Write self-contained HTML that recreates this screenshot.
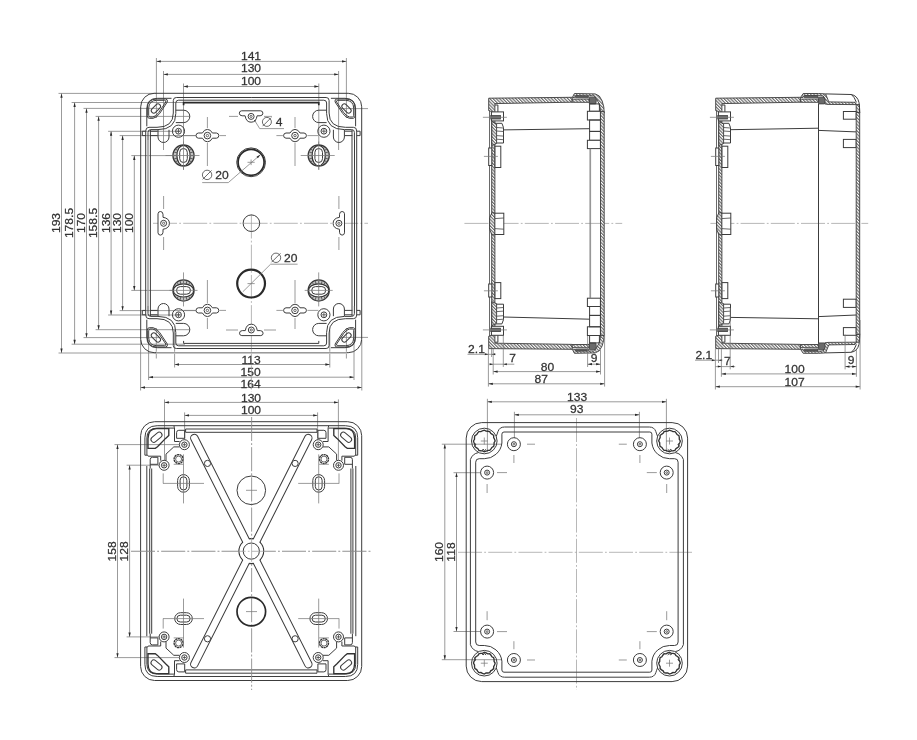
<!DOCTYPE html>
<html><head><meta charset="utf-8"><title>Enclosure drawing</title>
<style>
html,body{margin:0;padding:0;background:#fff}
svg{display:block}
text{font-family:"Liberation Sans",sans-serif;fill:#333;stroke:#333;stroke-width:0.25}
.o{fill:none;stroke:#3c3c3c;stroke-width:1}
.of{fill:#fff;stroke:#3c3c3c;stroke-width:1}
.o2{fill:none;stroke:#333;stroke-width:1.35}
.l2{fill:none;stroke:#9a9a9a;stroke-width:1.5}
.w2{fill:none;stroke:#fff;stroke-width:2}
.k{fill:none;stroke:#2a2a2a;stroke-width:1.7}
.m{fill:none;stroke:#444;stroke-width:0.8}
.t{fill:none;stroke:#7a7a7a;stroke-width:0.75}
.c{fill:none;stroke:#9a9a9a;stroke-width:0.7;stroke-dasharray:24 2.2 1.8 2.2}
.a{fill:#2a2a2a;stroke:none}
.w{fill:#fff;stroke:none}
.g{fill:#6a6a6a;stroke:#3c3c3c;stroke-width:0.8}
.h{fill:url(#hat);stroke:#3c3c3c;stroke-width:0.9}
</style></head><body>
<svg width="917" height="740" viewBox="0 0 917 740">
<defs>
<pattern id="hat" width="2.3" height="2.3" patternUnits="userSpaceOnUse" patternTransform="rotate(-45)">
<rect width="2.3" height="2.3" fill="#fff"/><line x1="0.6" y1="0" x2="0.6" y2="2.3" stroke="#555" stroke-width="1.0"/>
</pattern>
</defs>
<rect width="917" height="740" fill="#fff"/>
<g opacity="0.999">
<path class="t" d="M156.40 61.40L346.40 61.40"/>
<path class="a" d="M156.40 61.40L160.80 60.25L160.80 62.55Z"/>
<path class="a" d="M346.40 61.40L342.00 62.55L342.00 60.25Z"/>
<text font-size="11.4" text-anchor="middle" transform="translate(251.00 59.70) scale(1.06 1)">141</text>
<path class="t" d="M163.50 74.40L338.60 74.40"/>
<path class="a" d="M163.50 74.40L167.90 73.25L167.90 75.55Z"/>
<path class="a" d="M338.60 74.40L334.20 75.55L334.20 73.25Z"/>
<text font-size="11.4" text-anchor="middle" transform="translate(251.00 71.60) scale(1.06 1)">130</text>
<path class="t" d="M183.50 86.50L318.80 86.50"/>
<path class="a" d="M183.50 86.50L187.90 85.35L187.90 87.65Z"/>
<path class="a" d="M318.80 86.50L314.40 87.65L314.40 85.35Z"/>
<text font-size="11.4" text-anchor="middle" transform="translate(251.00 84.60) scale(1.06 1)">100</text>
<path class="t" d="M156.40 58.00L156.40 118.00"/>
<path class="t" d="M346.40 58.00L346.40 118.00"/>
<path class="t" d="M163.50 71.00L163.50 150.00"/>
<path class="t" d="M338.60 71.00L338.60 150.00"/>
<path class="t" d="M183.50 83.50L183.50 170.00"/>
<path class="t" d="M318.80 83.50L318.80 170.00"/>
<path class="t" d="M174.60 364.50L329.80 364.50"/>
<path class="a" d="M174.60 364.50L179.00 363.35L179.00 365.65Z"/>
<path class="a" d="M329.80 364.50L325.40 365.65L325.40 363.35Z"/>
<text font-size="11.4" text-anchor="middle" transform="translate(251.10 363.60) scale(1.06 1)">113</text>
<path class="t" d="M148.60 377.20L354.00 377.20"/>
<path class="a" d="M148.60 377.20L153.00 376.05L153.00 378.35Z"/>
<path class="a" d="M354.00 377.20L349.60 378.35L349.60 376.05Z"/>
<text font-size="11.4" text-anchor="middle" transform="translate(250.60 375.80) scale(1.06 1)">150</text>
<path class="t" d="M140.60 387.50L361.80 387.50"/>
<path class="a" d="M140.60 387.50L145.00 386.35L145.00 388.65Z"/>
<path class="a" d="M361.80 387.50L357.40 388.65L357.40 386.35Z"/>
<text font-size="11.4" text-anchor="middle" transform="translate(250.60 387.60) scale(1.06 1)">164</text>
<path class="t" d="M174.60 330.00L174.60 367.50"/>
<path class="t" d="M329.80 330.00L329.80 367.50"/>
<path class="t" d="M148.60 340.00L148.60 380.00"/>
<path class="t" d="M354.00 340.00L354.00 380.00"/>
<path class="t" d="M140.60 340.00L140.60 390.50"/>
<path class="t" d="M361.80 340.00L361.80 390.50"/>
<path class="t" d="M61.50 93.40L61.50 353.00"/>
<path class="a" d="M61.50 93.40L62.65 97.80L60.35 97.80Z"/>
<path class="a" d="M61.50 353.00L60.35 348.60L62.65 348.60Z"/>
<text font-size="11.4" text-anchor="middle" transform="translate(59.90 223.00) rotate(-90) scale(1.06 1)">193</text>
<path class="t" d="M58.50 93.40L156.00 93.40"/>
<path class="t" d="M58.50 353.00L156.00 353.00"/>
<path class="t" d="M74.60 102.50L74.60 344.20"/>
<path class="a" d="M74.60 102.50L75.75 106.90L73.45 106.90Z"/>
<path class="a" d="M74.60 344.20L73.45 339.80L75.75 339.80Z"/>
<text font-size="11.4" text-anchor="middle" transform="translate(73.00 223.00) rotate(-90) scale(1.06 1)">178.5</text>
<path class="t" d="M71.60 102.50L185.00 102.50"/>
<path class="t" d="M71.60 344.20L185.00 344.20"/>
<path class="t" d="M86.50 108.40L86.50 337.60"/>
<path class="a" d="M86.50 108.40L87.65 112.80L85.35 112.80Z"/>
<path class="a" d="M86.50 337.60L85.35 333.20L87.65 333.20Z"/>
<text font-size="11.4" text-anchor="middle" transform="translate(84.90 223.00) rotate(-90) scale(1.06 1)">170</text>
<path class="t" d="M83.50 108.40L160.00 108.40"/>
<path class="t" d="M83.50 337.60L160.00 337.60"/>
<path class="t" d="M98.60 116.40L98.60 329.70"/>
<path class="a" d="M98.60 116.40L99.75 120.80L97.45 120.80Z"/>
<path class="a" d="M98.60 329.70L97.45 325.30L99.75 325.30Z"/>
<text font-size="11.4" text-anchor="middle" transform="translate(97.00 223.00) rotate(-90) scale(1.06 1)">158.5</text>
<path class="t" d="M95.60 116.40L190.00 116.40"/>
<path class="t" d="M95.60 329.70L190.00 329.70"/>
<path class="t" d="M111.10 131.30L111.10 315.00"/>
<path class="a" d="M111.10 131.30L112.25 135.70L109.95 135.70Z"/>
<path class="a" d="M111.10 315.00L109.95 310.60L112.25 310.60Z"/>
<text font-size="11.4" text-anchor="middle" transform="translate(109.50 223.00) rotate(-90) scale(1.06 1)">136</text>
<path class="t" d="M108.10 131.30L180.00 131.30"/>
<path class="t" d="M108.10 315.00L180.00 315.00"/>
<path class="t" d="M122.60 135.60L122.60 310.60"/>
<path class="a" d="M122.60 135.60L123.75 140.00L121.45 140.00Z"/>
<path class="a" d="M122.60 310.60L121.45 306.20L123.75 306.20Z"/>
<text font-size="11.4" text-anchor="middle" transform="translate(121.00 223.00) rotate(-90) scale(1.06 1)">130</text>
<path class="t" d="M119.60 135.60L212.00 135.60"/>
<path class="t" d="M119.60 310.60L212.00 310.60"/>
<path class="t" d="M134.30 155.60L134.30 290.40"/>
<path class="a" d="M134.30 155.60L135.45 160.00L133.15 160.00Z"/>
<path class="a" d="M134.30 290.40L133.15 286.00L135.45 286.00Z"/>
<text font-size="11.4" text-anchor="middle" transform="translate(132.70 223.00) rotate(-90) scale(1.06 1)">100</text>
<path class="t" d="M131.30 155.60L190.00 155.60"/>
<path class="t" d="M131.30 290.40L190.00 290.40"/>
<path class="t" d="M340.00 108.60L368.00 108.60"/>
<path class="t" d="M340.00 337.40L368.00 337.40"/>
<path class="t" d="M156.30 328.00L156.30 358.50"/>
<path class="t" d="M346.40 328.00L346.40 358.50"/>
<path class="c" d="M153.00 223.30L368.00 223.30"/>
<path class="c" d="M251.40 214.50L251.40 392.00"/>
<path class="t" d="M247.50 162.30L254.70 162.30"/>
<path class="t" d="M251.10 159.50L251.10 165.10"/>
<path class="t" d="M247.50 283.60L254.70 283.60"/>
<rect class="o" x="140.70" y="93.30" width="221.00" height="259.40" rx="13.5" ry="13.5"/>
<g id="v1c">
<path class="o" d="M251.2 97.5 H176.3 Q173.3 97.5 173.3 100.5 V113 Q173.3 127.3 157 127.3 H149 Q145.7 127.3 145.7 131 V223.0"/>
<path class="o" d="M251.2 100.2 H178.6 Q175.8 100.2 175.8 103 V113.5 Q175.8 129.6 158 129.6 H150.8 Q148.0 129.6 148.0 132.4 V140"/>
<path class="o" d="M150.4 129.8 V223.0"/>
<path class="o" d="M146.8 126.3 V109 Q146.8 98.3 157.5 98.3 H171.5"/>
<path class="o" d="M156.5 99.0 H165.6 Q168.0 99.2 167.3 102 L159.6 113.6 Q156.2 117.9 153 118.3 H149.3 Q147.3 118.3 147.3 115.5 V108 Q147.5 99.2 156.5 99.0Z"/>
<path class="o" d="M156.7 100.3 H164.6 Q166.3 100.5 165.8 102 L158.6 112.7 Q155.6 116.6 152.8 117 H150 Q148.7 117 148.7 115.3 V108.2 Q148.9 100.5 156.7 100.3Z"/>
<rect class="o" x="-5.5" y="-2.5" width="11" height="5" rx="2.5" transform="translate(155.9 108.5) rotate(-45)"/>
<path class="o" d="M175.8 110.2 H183.6 A6.2 6.2 0 0 1 183.6 122.6 H175.8"/>
<path class="o" d="M158 129.8 V137 A5.5 5.5 0 0 0 169 137 V129.8"/>
<path class="o" d="M145.7 131.2 H142.3 V135.6 H145.7"/>
<path class="o" d="M150.00 131.20L157.60 131.20"/>
<path class="o" d="M150.00 135.60L157.60 135.60"/>
<circle class="o" cx="178.50" cy="131.20" r="6.10"/>
<circle class="o" cx="178.50" cy="131.20" r="2.90"/>
<path class="m" d="M176.30 131.20L180.70 131.20"/>
<path class="m" d="M178.50 129.00L178.50 133.40"/>
<g transform="translate(207.40 135.60) rotate(0)">
<path class="of" d="M-5 -2.6 Q-3.2 -6.2 0 -6.2 Q3.2 -6.2 5 -2.6 H9 Q11.4 -2.4 11.4 0 Q11.4 2.4 9 2.6 H5 Q3.2 6.2 0 6.2 Q-3.2 6.2 -5 2.6 H-9 Q-11.4 2.4 -11.4 0 Q-11.4 -2.4 -9 -2.6Z"/>
<circle class="o" cx="0.00" cy="0.00" r="3.30"/>
<circle class="m" cx="0.00" cy="0.00" r="1.20"/>
</g>
<path class="t" d="M195.00 135.60L184.00 135.60"/>
<path class="t" d="M219.50 135.60L226.00 135.60"/>
<path class="t" d="M207.40 117.00L207.40 128.00"/>
<path class="t" d="M207.40 143.00L207.40 166.00"/>
</g>
<use href="#v1c" transform="translate(502.40 0) scale(-1 1)"/>
<use href="#v1c" transform="translate(0 446.00) scale(1 -1)"/>
<use href="#v1c" transform="translate(502.40 446.00) scale(-1 -1)"/>
<path class="k" d="M183.6 105.2 V102.7 H318.8 V105.2"/>
<path class="o" d="M183.6 340.9 V343.4 H318.8 V340.9"/>
<path class="l2" d="M148.0 140 V306"/>
<path class="o" d="M354.5 140 V306"/>
<path class="w2" d="M156 352.7 H347"/>
<path class="l2" d="M156 352.8 H347"/>
<g transform="translate(183.50 155.50) rotate(0)">
<circle r="10.6" fill="#c4c4c4" stroke="#3a3a3a" stroke-width="1.25"/>
<path d="M-8.2 -6.6 L-5.8 -5 M-9.6 -3.5 L-6.4 -2.6 M-10 0 H-6.6 M-9.6 3.5 L-6.4 2.6 M-8.2 6.6 L-5.8 5 M8.2 -6.6 L5.8 -5 M9.6 -3.5 L6.4 -2.6 M10 0 H6.6 M9.6 3.5 L6.4 2.6 M8.2 6.6 L5.8 5" stroke="#555" stroke-width="0.9" fill="none"/>
<ellipse rx="6.6" ry="10.2" fill="#fff" stroke="#333" stroke-width="1.2"/>
<rect class="o" x="-3.80" y="-7.00" width="7.60" height="14.00" rx="3.8" ry="3.8"/>
<path class="t" d="M0.00 -14.00L0.00 14.00"/>
<path class="t" d="M-18.00 0.00L16.00 0.00"/>
</g>
<g transform="translate(318.70 155.50) rotate(0)">
<circle r="10.6" fill="#c4c4c4" stroke="#3a3a3a" stroke-width="1.25"/>
<path d="M-8.2 -6.6 L-5.8 -5 M-9.6 -3.5 L-6.4 -2.6 M-10 0 H-6.6 M-9.6 3.5 L-6.4 2.6 M-8.2 6.6 L-5.8 5 M8.2 -6.6 L5.8 -5 M9.6 -3.5 L6.4 -2.6 M10 0 H6.6 M9.6 3.5 L6.4 2.6 M8.2 6.6 L5.8 5" stroke="#555" stroke-width="0.9" fill="none"/>
<ellipse rx="6.6" ry="10.2" fill="#fff" stroke="#333" stroke-width="1.2"/>
<rect class="o" x="-3.80" y="-7.00" width="7.60" height="14.00" rx="3.8" ry="3.8"/>
<path class="t" d="M0.00 -14.00L0.00 14.00"/>
<path class="t" d="M-18.00 0.00L16.00 0.00"/>
</g>
<g transform="translate(183.50 290.40) rotate(90)">
<circle r="10.6" fill="#c4c4c4" stroke="#3a3a3a" stroke-width="1.25"/>
<path d="M-8.2 -6.6 L-5.8 -5 M-9.6 -3.5 L-6.4 -2.6 M-10 0 H-6.6 M-9.6 3.5 L-6.4 2.6 M-8.2 6.6 L-5.8 5 M8.2 -6.6 L5.8 -5 M9.6 -3.5 L6.4 -2.6 M10 0 H6.6 M9.6 3.5 L6.4 2.6 M8.2 6.6 L5.8 5" stroke="#555" stroke-width="0.9" fill="none"/>
<ellipse rx="6.6" ry="10.2" fill="#fff" stroke="#333" stroke-width="1.2"/>
<rect class="o" x="-3.80" y="-7.00" width="7.60" height="14.00" rx="3.8" ry="3.8"/>
<path class="t" d="M0.00 -14.00L0.00 14.00"/>
<path class="t" d="M-18.00 0.00L16.00 0.00"/>
</g>
<g transform="translate(318.70 290.40) rotate(90)">
<circle r="10.6" fill="#c4c4c4" stroke="#3a3a3a" stroke-width="1.25"/>
<path d="M-8.2 -6.6 L-5.8 -5 M-9.6 -3.5 L-6.4 -2.6 M-10 0 H-6.6 M-9.6 3.5 L-6.4 2.6 M-8.2 6.6 L-5.8 5 M8.2 -6.6 L5.8 -5 M9.6 -3.5 L6.4 -2.6 M10 0 H6.6 M9.6 3.5 L6.4 2.6 M8.2 6.6 L5.8 5" stroke="#555" stroke-width="0.9" fill="none"/>
<ellipse rx="6.6" ry="10.2" fill="#fff" stroke="#333" stroke-width="1.2"/>
<rect class="o" x="-3.80" y="-7.00" width="7.60" height="14.00" rx="3.8" ry="3.8"/>
<path class="t" d="M0.00 -14.00L0.00 14.00"/>
<path class="t" d="M-18.00 0.00L16.00 0.00"/>
</g>
<g transform="translate(251.10 116.40) rotate(0)">
<path class="of" d="M-9.5 -5.6 H9.5 Q11.8 -5.4 11.8 -3.2 Q11.8 -0.8 9 -0.6 H6 Q5 5.8 0 5.8 Q-5 5.8 -6 -0.6 H-9 Q-11.8 -0.8 -11.8 -3.2 Q-11.8 -5.4 -9.5 -5.6Z"/>
<circle class="o" cx="0.00" cy="0.00" r="3.00"/>
<circle class="m" cx="0.00" cy="0.00" r="1.10"/>
</g>
<g transform="translate(251.30 330.00) rotate(180)">
<path class="of" d="M-9.5 -5.6 H9.5 Q11.8 -5.4 11.8 -3.2 Q11.8 -0.8 9 -0.6 H6 Q5 5.8 0 5.8 Q-5 5.8 -6 -0.6 H-9 Q-11.8 -0.8 -11.8 -3.2 Q-11.8 -5.4 -9.5 -5.6Z"/>
<circle class="o" cx="0.00" cy="0.00" r="3.00"/>
<circle class="m" cx="0.00" cy="0.00" r="1.10"/>
</g>
<g transform="translate(163.60 223.30) rotate(-90)">
<path class="of" d="M-9.5 -5.6 H9.5 Q11.8 -5.4 11.8 -3.2 Q11.8 -0.8 9 -0.6 H6 Q5 5.8 0 5.8 Q-5 5.8 -6 -0.6 H-9 Q-11.8 -0.8 -11.8 -3.2 Q-11.8 -5.4 -9.5 -5.6Z"/>
<circle class="o" cx="0.00" cy="0.00" r="3.00"/>
<circle class="m" cx="0.00" cy="0.00" r="1.10"/>
</g>
<g transform="translate(338.90 223.30) rotate(90)">
<path class="of" d="M-9.5 -5.6 H9.5 Q11.8 -5.4 11.8 -3.2 Q11.8 -0.8 9 -0.6 H6 Q5 5.8 0 5.8 Q-5 5.8 -6 -0.6 H-9 Q-11.8 -0.8 -11.8 -3.2 Q-11.8 -5.4 -9.5 -5.6Z"/>
<circle class="o" cx="0.00" cy="0.00" r="3.00"/>
<circle class="m" cx="0.00" cy="0.00" r="1.10"/>
</g>
<path class="t" d="M229.00 116.40L238.00 116.40"/>
<path class="t" d="M264.00 116.40L272.00 116.40"/>
<path class="t" d="M226.00 330.00L238.00 330.00"/>
<path class="t" d="M264.00 330.00L276.00 330.00"/>
<path class="t" d="M163.60 196.00L163.60 209.00"/>
<path class="t" d="M163.60 237.00L163.60 250.00"/>
<path class="t" d="M338.90 196.00L338.90 209.00"/>
<path class="t" d="M338.90 237.00L338.90 250.00"/>
<circle class="o" cx="251.40" cy="223.20" r="8.30"/>
<circle class="o" cx="251.10" cy="162.30" r="14.40"/>
<circle class="k" cx="251.10" cy="162.30" r="13.00"/>
<circle cx="251.1" cy="283.6" r="13.9" fill="none" stroke="#2a2a2a" stroke-width="2.2"/>
<circle class="m" cx="207.10" cy="174.90" r="4.70"/>
<path class="m" d="M202.63 179.37L211.56 170.44"/>
<text font-size="11.4" text-anchor="middle" transform="translate(221.90 178.60) scale(1.06 1)">20</text>
<path class="t" d="M202.2 182.6 H228.3 L259.8 155.2"/>
<path class="a" d="M260.60 154.50L257.89 158.22L256.56 156.72Z"/>
<circle class="m" cx="276.00" cy="257.80" r="4.70"/>
<path class="m" d="M271.54 262.26L280.46 253.34"/>
<text font-size="11.4" text-anchor="middle" transform="translate(290.70 261.60) scale(1.06 1)">20</text>
<path class="t" d="M297.6 264.2 H270.6 L242.8 291.8"/>
<circle class="m" cx="266.90" cy="121.90" r="4.50"/>
<path class="m" d="M262.62 126.18L271.17 117.62"/>
<text font-size="11.4" text-anchor="middle" transform="translate(279.00 125.80) scale(1.06 1)">4</text>
<path class="t" d="M284 128.6 H259.7 L254.9 120.8"/>
<circle class="a" cx="254.90" cy="120.80" r="0.80"/>
<path class="t" d="M164.50 402.40L338.40 402.40"/>
<path class="a" d="M164.50 402.40L168.90 401.25L168.90 403.55Z"/>
<path class="a" d="M338.40 402.40L334.00 403.55L334.00 401.25Z"/>
<text font-size="11.4" text-anchor="middle" transform="translate(251.00 401.70) scale(1.06 1)">130</text>
<path class="t" d="M184.60 415.40L317.60 415.40"/>
<path class="a" d="M184.60 415.40L189.00 414.25L189.00 416.55Z"/>
<path class="a" d="M317.60 415.40L313.20 416.55L313.20 414.25Z"/>
<text font-size="11.4" text-anchor="middle" transform="translate(251.00 413.80) scale(1.06 1)">100</text>
<path class="t" d="M164.50 399.40L164.50 466.00"/>
<path class="t" d="M338.40 399.40L338.40 466.00"/>
<path class="t" d="M184.60 412.40L184.60 446.00"/>
<path class="t" d="M317.60 412.40L317.60 446.00"/>
<path class="t" d="M117.50 444.60L117.50 657.60"/>
<path class="a" d="M117.50 444.60L118.65 449.00L116.35 449.00Z"/>
<path class="a" d="M117.50 657.60L116.35 653.20L118.65 653.20Z"/>
<text font-size="11.4" text-anchor="middle" transform="translate(115.90 551.30) rotate(-90) scale(1.06 1)">158</text>
<path class="t" d="M129.60 465.20L129.60 636.90"/>
<path class="a" d="M129.60 465.20L130.75 469.60L128.45 469.60Z"/>
<path class="a" d="M129.60 636.90L128.45 632.50L130.75 632.50Z"/>
<text font-size="11.4" text-anchor="middle" transform="translate(128.00 551.30) rotate(-90) scale(1.06 1)">128</text>
<path class="t" d="M114.50 444.60L180.00 444.60"/>
<path class="t" d="M114.50 657.60L180.00 657.60"/>
<path class="t" d="M126.60 465.20L160.00 465.20"/>
<path class="t" d="M126.60 636.90L160.00 636.90"/>
<path class="c" d="M131.00 551.30L372.00 551.30"/>
<path class="c" d="M251.60 417.00L251.60 690.00"/>
<rect class="o" x="140.60" y="421.70" width="221.10" height="258.80" rx="14" ry="14"/>
<g id="v3c">
<path class="o" d="M251.3 425.7 H157.2 Q144.9 425.7 144.9 437.8 V455.2 H147.6"/>
<path class="o" d="M174.3 428.1 H157.4 Q146.9 428.1 146.9 438 V455.2"/>
<path class="o" d="M174.1 425.7 V427.4"/>
<path class="o" d="M251.3 429 H185.6 V432.3 H251.3"/>
<path class="o" d="M146.8 466 V551.1 M149.7 468.5 V551.1 M151.7 468.5 V551.1"/>
<path class="o" d="M147.6 455.2 L148.2 456.2 H160.7 V460.6 M174.5 427.4 V441.5 H179.6 M166.0 460.4 V454.1 L173.8 446.9 H179.6"/>
<path class="o2" d="M156.4 428.6 H168.8 V435.4 L165.6 438.4 L157.5 446.8 L155.3 448.4 H148.0 V438.4 Q148.2 428.8 156.4 428.6Z"/>
<rect class="o" x="-6.3" y="-2.8" width="12.6" height="5.6" rx="2.8" transform="translate(156.5 437.2) rotate(-40)"/>
<path class="o" d="M184.7 430.3 H178.8 Q176.6 430.3 176.6 432.6 V438.3 H184.7 Z"/>
<path class="o" d="M150.2 468.5 V459.6 Q150.2 457.3 152.5 457.3 H157.9 V464.3 H150.2"/>
<circle class="of" cx="184.40" cy="444.70" r="5.00"/>
<circle class="o" cx="184.40" cy="444.70" r="2.70"/>
<path class="m" d="M182.60 444.70L186.20 444.70"/>
<path class="m" d="M184.40 442.90L184.40 446.50"/>
<circle class="of" cx="164.10" cy="465.30" r="5.00"/>
<circle class="o" cx="164.10" cy="465.30" r="2.70"/>
<path class="m" d="M162.30 465.30L165.90 465.30"/>
<path class="m" d="M164.10 463.50L164.10 467.10"/>
<circle class="o2" cx="178.6" cy="459.1" r="4.5" stroke-dasharray="2.2 0.5"/>
<circle class="m" cx="178.60" cy="459.10" r="3.00"/>
<path class="t" d="M173.70 464.30L183.50 464.30"/>
</g>
<use href="#v3c" transform="translate(502.60 0) scale(-1 1)"/>
<use href="#v3c" transform="translate(0 1102.20) scale(1 -1)"/>
<use href="#v3c" transform="translate(502.60 1102.20) scale(-1 -1)"/>
<path d="M251.3 551.1L194.3 438.0" stroke="#3c3c3c" stroke-width="8.4" stroke-linecap="round" fill="none"/>
<path d="M251.3 551.1L308.3 438.0" stroke="#3c3c3c" stroke-width="8.4" stroke-linecap="round" fill="none"/>
<path d="M251.3 551.1L194.3 664.2" stroke="#3c3c3c" stroke-width="8.4" stroke-linecap="round" fill="none"/>
<path d="M251.3 551.1L308.3 664.2" stroke="#3c3c3c" stroke-width="8.4" stroke-linecap="round" fill="none"/>
<circle class="a" cx="251.30" cy="551.10" r="12.90"/>
<path d="M251.3 551.1L194.3 438.0" stroke="#fff" stroke-width="6.4" stroke-linecap="round" fill="none"/>
<path d="M251.3 551.1L308.3 438.0" stroke="#fff" stroke-width="6.4" stroke-linecap="round" fill="none"/>
<path d="M251.3 551.1L194.3 664.2" stroke="#fff" stroke-width="6.4" stroke-linecap="round" fill="none"/>
<path d="M251.3 551.1L308.3 664.2" stroke="#fff" stroke-width="6.4" stroke-linecap="round" fill="none"/>
<circle cx="251.3" cy="551.1" r="11.9" fill="#fff"/>
<circle class="o" cx="251.30" cy="551.10" r="8.10"/>
<path class="o" d="M249.00 538.50L253.60 538.50"/>
<path class="o" d="M249.00 563.70L253.60 563.70"/>
<circle class="of" cx="207.50" cy="463.40" r="3.10"/>
<circle class="of" cx="295.10" cy="463.40" r="3.10"/>
<circle class="of" cx="207.50" cy="638.80" r="3.10"/>
<circle class="of" cx="295.10" cy="638.80" r="3.10"/>
<path class="c" d="M131.00 551.30L372.00 551.30"/>
<path class="c" d="M251.60 417.00L251.60 690.00"/>
<circle class="o" cx="251.30" cy="490.30" r="14.30"/>
<circle class="k" cx="251.30" cy="611.60" r="14.30"/>
<path class="t" d="M246.00 490.30L257.00 490.30"/>
<path class="t" d="M246.00 611.60L257.00 611.60"/>
<g transform="translate(183.50 483.40) rotate(0)">
<rect class="o" x="-5.90" y="-8.80" width="11.80" height="17.60" rx="5.9" ry="5.9"/>
<rect class="o" x="-3.40" y="-6.60" width="6.80" height="13.20" rx="3.4" ry="3.4"/>
</g>
<g transform="translate(318.70 483.40) rotate(0)">
<rect class="o" x="-5.90" y="-8.80" width="11.80" height="17.60" rx="5.9" ry="5.9"/>
<rect class="o" x="-3.40" y="-6.60" width="6.80" height="13.20" rx="3.4" ry="3.4"/>
</g>
<g transform="translate(183.50 618.60) rotate(90)">
<rect class="o" x="-5.90" y="-8.80" width="11.80" height="17.60" rx="5.9" ry="5.9"/>
<rect class="o" x="-3.40" y="-6.60" width="6.80" height="13.20" rx="3.4" ry="3.4"/>
</g>
<g transform="translate(318.70 618.60) rotate(90)">
<rect class="o" x="-5.90" y="-8.80" width="11.80" height="17.60" rx="5.9" ry="5.9"/>
<rect class="o" x="-3.40" y="-6.60" width="6.80" height="13.20" rx="3.4" ry="3.4"/>
</g>
<path class="t" d="M163.00 483.40L204.00 483.40"/>
<path class="t" d="M183.50 454.40L183.50 503.40"/>
<path class="t" d="M163.20 483.40L163.20 473.40"/>
<path class="t" d="M163.00 618.60L204.00 618.60"/>
<path class="t" d="M183.50 647.60L183.50 598.60"/>
<path class="t" d="M163.20 618.60L163.20 628.60"/>
<path class="t" d="M339.20 483.40L298.20 483.40"/>
<path class="t" d="M318.70 454.40L318.70 503.40"/>
<path class="t" d="M339.00 483.40L339.00 473.40"/>
<path class="t" d="M339.20 618.60L298.20 618.60"/>
<path class="t" d="M318.70 647.60L318.70 598.60"/>
<path class="t" d="M339.00 618.60L339.00 628.60"/>
<path class="t" d="M487.40 401.80L666.40 401.80"/>
<path class="a" d="M487.40 401.80L491.80 400.65L491.80 402.95Z"/>
<path class="a" d="M666.40 401.80L662.00 402.95L662.00 400.65Z"/>
<text font-size="11.4" text-anchor="middle" transform="translate(577.20 400.90) scale(1.06 1)">133</text>
<path class="t" d="M514.40 414.80L639.40 414.80"/>
<path class="a" d="M514.40 414.80L518.80 413.65L518.80 415.95Z"/>
<path class="a" d="M639.40 414.80L635.00 415.95L635.00 413.65Z"/>
<text font-size="11.4" text-anchor="middle" transform="translate(576.70 412.80) scale(1.06 1)">93</text>
<path class="t" d="M487.40 398.80L487.40 452.00"/>
<path class="t" d="M666.40 398.80L666.40 452.00"/>
<path class="t" d="M514.40 411.80L514.40 438.00"/>
<path class="t" d="M639.40 411.80L639.40 438.00"/>
<path class="t" d="M444.80 444.20L444.80 659.70"/>
<path class="a" d="M444.80 444.20L445.95 448.60L443.65 448.60Z"/>
<path class="a" d="M444.80 659.70L443.65 655.30L445.95 655.30Z"/>
<text font-size="11.4" text-anchor="middle" transform="translate(443.20 552.00) rotate(-90) scale(1.06 1)">160</text>
<path class="t" d="M456.50 472.70L456.50 631.50"/>
<path class="a" d="M456.50 472.70L457.65 477.10L455.35 477.10Z"/>
<path class="a" d="M456.50 631.50L455.35 627.10L457.65 627.10Z"/>
<text font-size="11.4" text-anchor="middle" transform="translate(454.90 552.00) rotate(-90) scale(1.06 1)">118</text>
<path class="t" d="M441.80 444.20L502.00 444.20"/>
<path class="t" d="M441.80 659.70L502.00 659.70"/>
<path class="t" d="M453.50 472.70L481.00 472.70"/>
<path class="t" d="M453.50 631.50L481.00 631.50"/>
<path class="c" d="M458.00 552.30L692.00 552.30"/>
<path class="c" d="M576.50 418.00L576.50 690.00"/>
<rect class="o" x="466.20" y="422.60" width="221.40" height="259.00" rx="15.5" ry="15.5"/>
<g id="v4c">
<path class="o" d="M576.9 427 H504.5 Q499.5 427 498 431.5 Q497.2 434 496.3 436.2"/>
<path class="o" d="M478.5 452.6 Q472.5 453.6 470.4 459.5 V552.1"/>
<path class="o" d="M576.9 432 H504 Q501.9 432 501.9 434.2 V443 A17.7 17.7 0 0 1 484.3 458.7 H479.2 Q475.7 458.7 475.7 462.2 V552.1"/>
<circle class="o" cx="484.30" cy="441.00" r="12.80"/>
<path class="o2" d="M495.15 441.00L494.10 442.73L494.07 444.56L493.70 446.42L491.92 447.40L490.98 448.97L489.73 450.40L487.70 450.35L486.11 451.24L484.30 451.85L482.57 450.80L480.74 450.77L478.88 450.40L477.90 448.62L476.33 447.68L474.90 446.43L474.95 444.40L474.06 442.81L473.45 441.00L474.50 439.27L474.53 437.44L474.90 435.57L476.68 434.60L477.62 433.03L478.87 431.60L480.90 431.65L482.49 430.76L484.30 430.15L486.03 431.20L487.86 431.23L489.72 431.60L490.70 433.38L492.27 434.32L493.70 435.58L493.65 437.60L494.54 439.19Z"/>
<path class="o" d="M474.10 443.50 l1.8 0.8 l-1.2 1.6 M481.80 451.00 l1.2 -1.8 l1.6 1.4 l1.5 -1.3"/>
<path class="t" d="M480.80 441.00L487.80 441.00"/>
<path class="t" d="M484.30 437.50L484.30 444.50"/>
<circle class="o" cx="513.90" cy="444.20" r="6.50"/>
<circle class="o" cx="513.90" cy="444.20" r="2.50"/>
<circle class="m" cx="513.90" cy="444.20" r="0.90"/>
<circle class="o" cx="487.10" cy="472.60" r="6.50"/>
<circle class="o" cx="487.10" cy="472.60" r="2.50"/>
<circle class="m" cx="487.10" cy="472.60" r="0.90"/>
<path class="t" d="M527.00 444.20L535.00 444.20"/>
<path class="t" d="M513.90 455.00L513.90 463.00"/>
<path class="t" d="M487.10 484.00L487.10 493.00"/>
<path class="t" d="M497.00 472.60L507.00 472.60"/>
</g>
<use href="#v4c" transform="translate(1153.80 0) scale(-1 1)"/>
<use href="#v4c" transform="translate(0 1104.20) scale(1 -1)"/>
<use href="#v4c" transform="translate(1153.80 1104.20) scale(-1 -1)"/>
<path class="c" d="M464.40 223.40L622.20 223.40"/>
<path class="h" d="M488.70 98.20L572.20 97.30L572.20 102.20L494.90 103.60L494.90 343.20L572.20 344.40L572.20 349.30L488.70 348.60L488.70 336.20L491.70 335.20L491.70 111.60L488.70 110.60Z"/>
<path class="m" d="M489.50 110.60L489.50 336.20"/>
<rect class="of" x="491.40" y="111.90" width="12.10" height="9.00"/>
<rect class="g" x="490.80" y="115.60" width="9.60" height="3.40"/>
<path class="t" d="M482.90 117.30L506.90 117.30"/>
<path class="o" d="M495.00 105.00 H497.90 V111.90"/>
<path class="of" d="M495.00 123.30L501.90 123.30L503.50 127.50L503.50 143.00L495.00 143.00Z"/>
<path class="m" d="M496.60 127.50L503.50 128.00"/>
<path class="m" d="M496.60 131.00L503.50 131.50"/>
<path class="m" d="M496.60 135.60L503.50 136.10"/>
<path class="m" d="M496.60 139.20L503.50 139.70"/>
<path class="h" d="M491.80 121.50L496.60 124.00L496.60 143.50L491.80 145.50Z"/>
<rect class="of" x="495.00" y="146.20" width="5.80" height="21.30"/>
<rect class="of" x="488.70" y="148.00" width="3.10" height="17.50"/>
<path class="t" d="M483.90 156.40L497.90 156.40"/>
<rect class="of" x="491.40" y="326.30" width="12.10" height="9.00"/>
<rect class="g" x="490.80" y="328.20" width="9.60" height="3.40"/>
<path class="t" d="M482.90 329.90L506.90 329.90"/>
<path class="o" d="M495.00 342.20 H497.90 V335.30"/>
<path class="of" d="M495.00 323.90L501.90 323.90L503.50 319.70L503.50 304.20L495.00 304.20Z"/>
<path class="m" d="M496.60 319.70L503.50 319.20"/>
<path class="m" d="M496.60 316.20L503.50 315.70"/>
<path class="m" d="M496.60 311.60L503.50 311.10"/>
<path class="m" d="M496.60 308.00L503.50 307.50"/>
<path class="h" d="M491.80 325.70L496.60 323.20L496.60 303.70L491.80 301.70Z"/>
<rect class="of" x="495.00" y="282.60" width="5.80" height="16.00"/>
<rect class="of" x="488.70" y="284.00" width="3.10" height="13.00"/>
<path class="t" d="M483.90 290.80L497.90 290.80"/>
<rect class="of" x="494.60" y="213.20" width="9.20" height="21.30"/>
<path class="m" d="M494.60 218.60L503.80 218.00"/>
<path class="m" d="M494.60 228.60L503.80 229.20"/>
<path class="h" d="M489.60 218.00L491.80 212.80L494.80 212.80L494.80 234.80L491.80 234.80L489.60 229.00Z"/>
<path class="h" d="M572.20 99.20L589.20 99.00L589.20 102.30L572.20 102.30Z"/>
<path class="g" d="M575.60 96.20L588.40 96.20L588.40 97.70L575.60 97.70Z"/>
<path class="h" d="M572.40 97.40L574.40 93.50L595.20 93.90L599.30 96.00L602.20 101.00L603.80 107.00L604.20 113.00L600.50 113.00L600.30 108.50L598.80 103.20L596.40 98.60L593.60 95.90L575.60 95.50L574.60 97.60Z"/>
<path class="g" d="M589.40 97.20L595.40 97.20L596.40 100.00L595.80 103.90L589.40 103.90Z"/>
<rect class="o" x="589.60" y="103.90" width="9.80" height="7.40"/>
<rect class="of" x="587.40" y="111.30" width="13.00" height="8.70"/>
<rect class="o" x="589.60" y="120.00" width="10.80" height="11.40"/>
<rect class="o" x="589.60" y="131.40" width="10.80" height="8.90"/>
<rect class="of" x="587.40" y="140.30" width="13.00" height="8.30"/>
<path class="h" d="M572.20 347.60L589.20 347.80L589.20 344.50L572.20 344.50Z"/>
<path class="g" d="M575.60 350.60L588.40 350.60L588.40 349.10L575.60 349.10Z"/>
<path class="h" d="M572.40 349.40L574.40 353.30L595.20 352.90L599.30 350.80L602.20 345.80L603.80 339.80L604.20 333.80L600.50 333.80L600.30 338.30L598.80 343.60L596.40 348.20L593.60 350.90L575.60 351.30L574.60 349.20Z"/>
<path class="g" d="M589.40 349.60L595.40 349.60L596.40 346.80L595.80 342.90L589.40 342.90Z"/>
<rect class="o" x="589.60" y="335.50" width="9.80" height="7.40"/>
<rect class="of" x="587.40" y="326.80" width="13.00" height="8.70"/>
<rect class="o" x="589.60" y="315.40" width="10.80" height="11.40"/>
<rect class="o" x="589.60" y="306.50" width="10.80" height="8.90"/>
<rect class="of" x="587.40" y="298.20" width="13.00" height="8.30"/>
<path class="h" d="M600.50 111.50L604.20 111.50L604.20 335.60L600.50 335.60Z"/>
<path class="t" d="M589.90 148.60L589.90 298.60"/>
<path class="t" d="M590.60 148.60L590.60 298.60"/>
<path class="o" d="M503.50 129.90L589.50 128.70"/>
<path class="o" d="M503.50 317.00L589.50 319.20"/>
<path class="t" d="M467.50 354.30L495.50 354.30"/>
<path class="a" d="M488.40 354.30L484.80 355.30L484.80 353.30Z"/>
<path class="a" d="M491.60 354.30L495.20 353.30L495.20 355.30Z"/>
<text font-size="11.4" text-anchor="middle" transform="translate(476.50 353.40) scale(1.06 1)">2.1</text>
<path class="t" d="M489.50 364.20L514.30 364.20"/>
<path class="a" d="M493.20 364.20L489.60 365.20L489.60 363.20Z"/>
<path class="a" d="M503.30 364.20L506.90 363.20L506.90 365.20Z"/>
<text font-size="11.4" text-anchor="middle" transform="translate(512.50 362.20) scale(1.06 1)">7</text>
<path class="t" d="M493.20 371.60L600.50 371.60"/>
<path class="a" d="M493.20 371.60L497.60 370.45L497.60 372.75Z"/>
<path class="a" d="M600.50 371.60L596.10 372.75L596.10 370.45Z"/>
<text font-size="11.4" text-anchor="middle" transform="translate(547.50 370.90) scale(1.06 1)">80</text>
<path class="t" d="M488.40 383.80L604.60 383.80"/>
<path class="a" d="M488.40 383.80L492.80 382.65L492.80 384.95Z"/>
<path class="a" d="M604.60 383.80L600.20 384.95L600.20 382.65Z"/>
<text font-size="11.4" text-anchor="middle" transform="translate(541.30 382.90) scale(1.06 1)">87</text>
<path class="t" d="M587.60 364.20L600.50 364.20"/>
<path class="a" d="M587.60 364.20L592.00 363.05L592.00 365.35Z"/>
<path class="a" d="M600.50 364.20L596.10 365.35L596.10 363.05Z"/>
<text font-size="11.4" text-anchor="middle" transform="translate(594.20 362.40) scale(1.06 1)">9</text>
<path class="t" d="M488.40 349.00L488.40 386.60"/>
<path class="t" d="M493.20 349.00L493.20 374.50"/>
<path class="t" d="M491.60 349.00L491.60 357.00"/>
<path class="t" d="M503.30 336.00L503.30 367.00"/>
<path class="t" d="M587.60 336.00L587.60 367.00"/>
<path class="t" d="M600.50 350.00L600.50 374.50"/>
<path class="t" d="M604.60 320.00L604.60 386.60"/>
<path class="c" d="M710.40 223.40L868.20 223.40"/>
<path class="h" d="M715.70 98.20L800.40 97.30L800.40 102.20L721.90 103.60L721.90 343.20L800.40 344.40L800.40 349.30L715.70 348.60L715.70 336.20L718.70 335.20L718.70 111.60L715.70 110.60Z"/>
<path class="m" d="M716.50 110.60L716.50 336.20"/>
<rect class="of" x="718.40" y="111.90" width="12.10" height="9.00"/>
<rect class="g" x="717.80" y="115.60" width="9.60" height="3.40"/>
<path class="t" d="M709.90 117.30L733.90 117.30"/>
<path class="o" d="M722.00 105.00 H724.90 V111.90"/>
<path class="of" d="M722.00 123.30L728.90 123.30L730.50 127.50L730.50 143.00L722.00 143.00Z"/>
<path class="m" d="M723.60 127.50L730.50 128.00"/>
<path class="m" d="M723.60 131.00L730.50 131.50"/>
<path class="m" d="M723.60 135.60L730.50 136.10"/>
<path class="m" d="M723.60 139.20L730.50 139.70"/>
<path class="h" d="M718.80 121.50L723.60 124.00L723.60 143.50L718.80 145.50Z"/>
<rect class="of" x="722.00" y="146.20" width="5.80" height="21.30"/>
<rect class="of" x="715.70" y="148.00" width="3.10" height="17.50"/>
<path class="t" d="M710.90 156.40L724.90 156.40"/>
<rect class="of" x="718.40" y="326.30" width="12.10" height="9.00"/>
<rect class="g" x="717.80" y="328.20" width="9.60" height="3.40"/>
<path class="t" d="M709.90 329.90L733.90 329.90"/>
<path class="o" d="M722.00 342.20 H724.90 V335.30"/>
<path class="of" d="M722.00 323.90L728.90 323.90L730.50 319.70L730.50 304.20L722.00 304.20Z"/>
<path class="m" d="M723.60 319.70L730.50 319.20"/>
<path class="m" d="M723.60 316.20L730.50 315.70"/>
<path class="m" d="M723.60 311.60L730.50 311.10"/>
<path class="m" d="M723.60 308.00L730.50 307.50"/>
<path class="h" d="M718.80 325.70L723.60 323.20L723.60 303.70L718.80 301.70Z"/>
<rect class="of" x="722.00" y="282.60" width="5.80" height="16.00"/>
<rect class="of" x="715.70" y="284.00" width="3.10" height="13.00"/>
<path class="t" d="M710.90 290.80L724.90 290.80"/>
<rect class="of" x="721.60" y="213.20" width="9.20" height="21.30"/>
<path class="m" d="M721.60 218.60L730.80 218.00"/>
<path class="m" d="M721.60 228.60L730.80 229.20"/>
<path class="h" d="M716.60 218.00L718.80 212.80L721.80 212.80L721.80 234.80L718.80 234.80L716.60 229.00Z"/>
<path class="h" d="M800.40 99.20L818.30 99.00L818.30 102.30L800.40 102.30Z"/>
<path class="g" d="M804.40 96.20L818.00 96.20L818.00 97.70L804.40 97.70Z"/>
<path class="h" d="M800.60 97.40L803.20 93.50L818.40 93.50L825.60 93.90L828.80 101.90L855.00 102.30L856.20 104.00L856.20 113.00L859.70 113.00L859.40 104.60L856.40 104.60L828.00 104.40L825.00 104.00L823.40 96.00L818.40 95.50L804.20 95.50L803.00 97.60Z"/>
<path class="o" d="M825.6 93.90 L851 94.50 Q857.4 95.40 859.0 102.50 Q859.7 107.00 859.7 113.00 M851.5 94.60 Q854.6 97.00 856.4 102.40"/>
<path class="g" d="M818.60 97.20L824.20 97.20L825.20 100.00L824.60 103.90L818.60 103.90Z"/>
<rect class="of" x="843.40" y="111.50" width="12.80" height="7.70"/>
<rect class="of" x="843.40" y="139.40" width="12.80" height="8.20"/>
<path class="h" d="M800.40 347.60L818.30 347.80L818.30 344.50L800.40 344.50Z"/>
<path class="g" d="M804.40 350.60L818.00 350.60L818.00 349.10L804.40 349.10Z"/>
<path class="h" d="M800.60 349.40L803.20 353.30L818.40 353.30L825.60 352.90L828.80 344.90L855.00 344.50L856.20 342.80L856.20 333.80L859.70 333.80L859.40 342.20L856.40 342.20L828.00 342.40L825.00 342.80L823.40 350.80L818.40 351.30L804.20 351.30L803.00 349.20Z"/>
<path class="o" d="M825.6 352.90 L851 352.30 Q857.4 351.40 859.0 344.30 Q859.7 339.80 859.7 333.80 M851.5 352.20 Q854.6 349.80 856.4 344.40"/>
<path class="g" d="M818.60 349.60L824.20 349.60L825.20 346.80L824.60 342.90L818.60 342.90Z"/>
<rect class="of" x="843.40" y="327.60" width="12.80" height="7.70"/>
<rect class="of" x="843.40" y="299.20" width="12.80" height="8.20"/>
<path class="h" d="M856.20 112.50L859.70 112.50L859.70 334.50L856.20 334.50Z"/>
<path class="o" d="M818.50 103.90L818.50 343.50"/>
<path class="o" d="M730.60 129.70L818.50 128.20"/>
<path class="o" d="M818.50 130.40L856.20 131.90"/>
<path class="o" d="M730.60 317.40L818.50 318.80"/>
<path class="o" d="M818.50 316.60L856.20 315.00"/>
<path class="t" d="M695.00 360.20L721.60 360.20"/>
<path class="a" d="M715.40 360.20L711.80 361.20L711.80 359.20Z"/>
<path class="a" d="M718.50 360.20L722.10 359.20L722.10 361.20Z"/>
<text font-size="11.4" text-anchor="middle" transform="translate(703.80 359.20) scale(1.06 1)">2.1</text>
<path class="t" d="M715.40 366.60L735.20 366.60"/>
<path class="a" d="M721.40 366.60L717.80 367.60L717.80 365.60Z"/>
<path class="a" d="M730.20 366.60L733.80 365.60L733.80 367.60Z"/>
<text font-size="11.4" text-anchor="middle" transform="translate(727.30 365.10) scale(1.06 1)">7</text>
<path class="t" d="M721.40 373.90L856.40 373.90"/>
<path class="a" d="M721.40 373.90L725.80 372.75L725.80 375.05Z"/>
<path class="a" d="M856.40 373.90L852.00 375.05L852.00 372.75Z"/>
<text font-size="11.4" text-anchor="middle" transform="translate(794.60 372.90) scale(1.06 1)">100</text>
<path class="t" d="M715.40 386.70L860.10 386.70"/>
<path class="a" d="M715.40 386.70L719.80 385.55L719.80 387.85Z"/>
<path class="a" d="M860.10 386.70L855.70 387.85L855.70 385.55Z"/>
<text font-size="11.4" text-anchor="middle" transform="translate(794.60 386.10) scale(1.06 1)">107</text>
<path class="t" d="M845.10 366.60L856.60 366.60"/>
<path class="a" d="M845.10 366.60L849.50 365.45L849.50 367.75Z"/>
<path class="a" d="M856.60 366.60L852.20 367.75L852.20 365.45Z"/>
<text font-size="11.4" text-anchor="middle" transform="translate(851.00 364.20) scale(1.06 1)">9</text>
<path class="t" d="M715.40 349.00L715.40 389.50"/>
<path class="t" d="M721.40 349.00L721.40 376.80"/>
<path class="t" d="M718.50 349.00L718.50 363.00"/>
<path class="t" d="M730.20 308.00L730.20 369.40"/>
<path class="t" d="M845.10 334.60L845.10 369.40"/>
<path class="t" d="M856.40 350.00L856.40 376.80"/>
<path class="t" d="M860.10 320.00L860.10 389.50"/>
</g>
</svg>
</body></html>
